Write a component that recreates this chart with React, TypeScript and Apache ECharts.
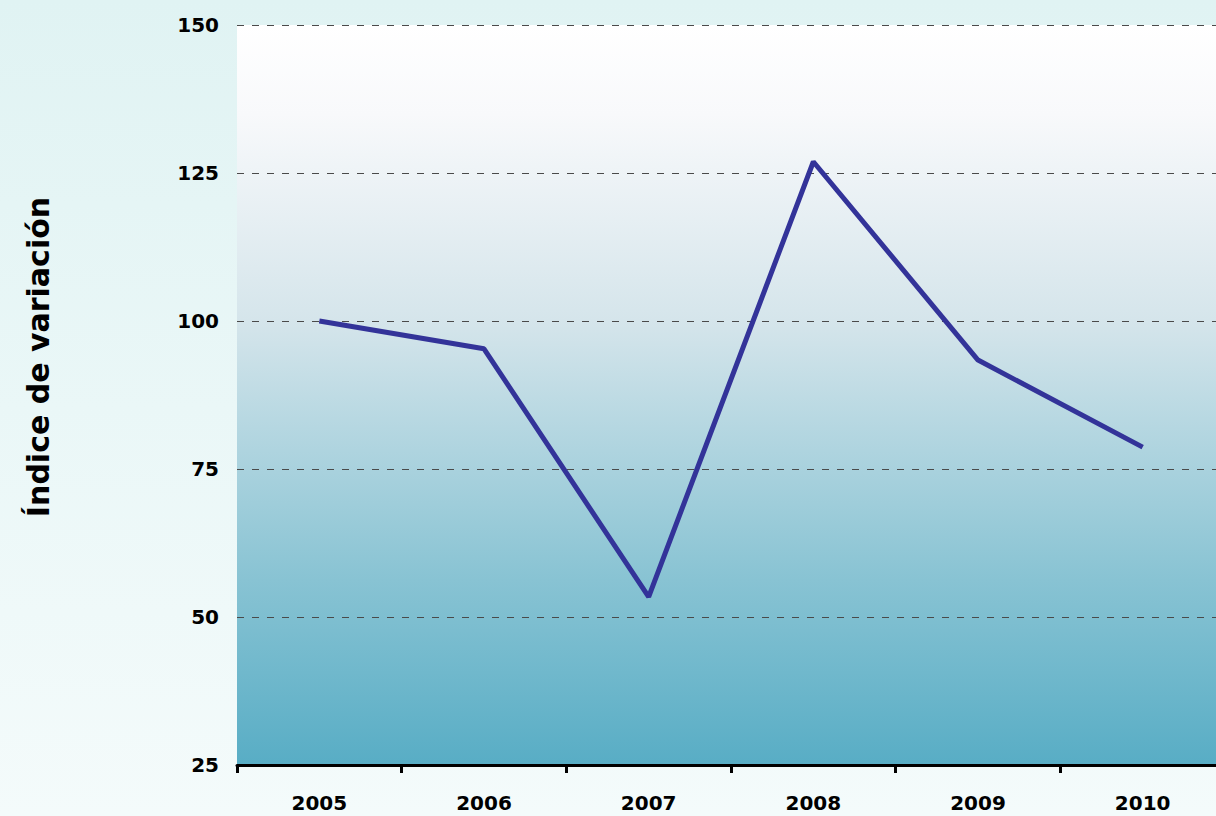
import React, { useEffect, useRef } from "react";
import * as echarts from "echarts";

const categories = ["2005", "2006", "2007", "2008", "2009", "2010"];
const values = [100, 95.3, 53.4, 126.9, 93.4, 78.7];
const yTicks = [25, 50, 75, 100, 125, 150];
const yTitle = "Índice de variación";

export default function App() {
  const ref = useRef<HTMLDivElement>(null);
  useEffect(() => {
    if (!ref.current) return;
    const chart = echarts.init(ref.current, null, { renderer: "svg" });
    const font = "DejaVu Sans";
    chart.setOption({
      animation: false,
      backgroundColor: {
        type: "linear", x: 0, y: 0, x2: 0, y2: 1,
        colorStops: [
          { offset: 0, color: "#e0f3f3" },
          { offset: 1, color: "#f4fbfb" },
        ],
      },
      graphic: [
        {
          type: "text",
          x: 38,
          y: 357,
          rotation: Math.PI / 2,
          style: {
            text: yTitle,
            fill: "#000",
            font: `bold 30px "${font}"`,
            textAlign: "center",
            textVerticalAlign: "middle",
          },
        },
      ],
      grid: {
        left: 237, top: 25, width: 988, height: 740,
        outerBoundsMode: "none",
        containLabel: false,
        show: true,
        borderWidth: 0,
        backgroundColor: {
          type: "linear", x: 0, y: 0, x2: 0, y2: 1,
          colorStops: [
            { offset: 0, color: "#ffffff" },
            { offset: 0.12, color: "#f8f9fb" },
            { offset: 0.4, color: "#d5e5eb" },
            { offset: 0.75, color: "#88c3d3" },
            { offset: 1, color: "#58adc5" },
          ],
        },
      },
      xAxis: {
        type: "category",
        data: categories,
        boundaryGap: true,
        axisLine: { show: true, lineStyle: { color: "#000", width: 3 } },
        axisTick: { show: true, length: 8, lineStyle: { color: "#000", width: 3 } },
        axisLabel: { color: "#000", fontFamily: font, fontWeight: "bold", fontSize: 20, margin: 28 },
        splitLine: { show: false },
      },
      yAxis: {
        type: "value",
        min: yTicks[0],
        max: yTicks[yTicks.length - 1],
        interval: 25,
        axisLine: { show: false },
        axisTick: { show: false },
        axisLabel: { color: "#000", fontFamily: font, fontWeight: "bold", fontSize: 20, margin: 18 },
        splitLine: { show: true, lineStyle: { color: "#4a4a4a", type: [7, 8], width: 1.2 } },
      },
      series: [
        {
          type: "line",
          data: values,
          symbol: "none",
          lineStyle: { color: "#333399", width: 5 },
        },
      ],
    });
    return () => chart.dispose();
  }, []);
  return (
    <div
      ref={ref}
      style={{ position: "fixed", left: 0, top: 0, width: 1216, height: 816 }}
    />
  );
}
